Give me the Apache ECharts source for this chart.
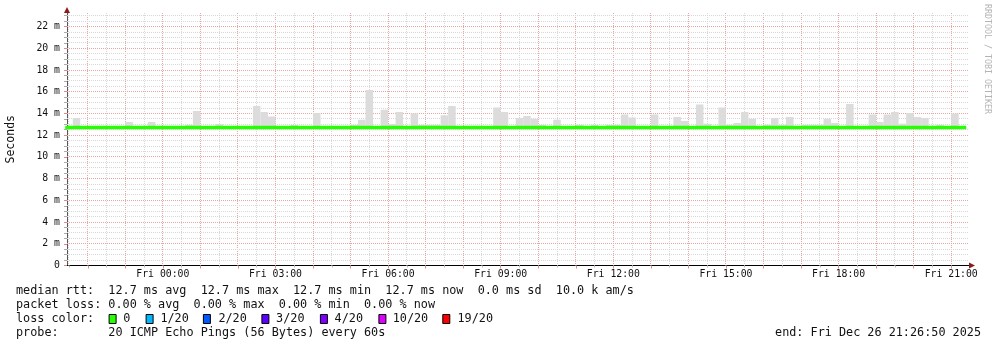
<!DOCTYPE html>
<html><head><meta charset="utf-8">
<script src="https://cdn.jsdelivr.net/npm/echarts@6/dist/echarts.min.js"></script>
<style>html,body{margin:0;padding:0;background:#fff}#c{width:997px;height:347px}</style>
</head><body><div id="c"></div>
<script>
// x values are hours relative to Fri 2025-12-26 00:00
const xMin = -2.552778;            // Thu 21:26:50
const xMax = 21.447222;            // Fri 21:26:50
const firstBucketStart = -2.6;     // Thu 21:24
const bucketHours = 0.2;           // 12 minute consolidation step

const smokeLow = 12.6;
const smokeHigh = [
  12.8,13.59,12.8,12.8,12.8,12.8,12.8,12.8,13.22,12.8,
  12.8,13.22,12.8,12.8,12.8,12.8,12.97,14.23,12.8,12.8,
  13.03,12.8,12.8,12.8,12.8,14.69,14.14,13.71,12.8,12.8,
  12.94,12.8,12.8,14.05,12.8,12.8,12.8,12.8,12.97,13.43,
  16.17,12.8,14.33,13.03,14.14,12.8,13.99,12.97,12.97,12.97,
  13.84,14.69,12.8,12.8,12.8,12.8,12.8,14.54,14.14,12.8,
  13.59,13.77,13.52,12.97,12.8,13.43,12.8,12.8,12.97,12.8,
  12.97,12.8,12.97,12.97,13.9,13.62,12.8,12.8,13.9,12.8,
  12.8,13.68,13.31,12.8,14.82,13.06,12.8,14.54,12.97,13.12,
  14.14,13.52,12.8,12.97,13.59,12.97,13.68,12.8,12.97,12.97,
  12.97,13.52,13.12,12.8,14.88,12.8,12.8,13.9,13.22,13.9,
  14.14,13.05,14.05,13.68,13.59,12.8,12.97,12.8,13.99,12.8
];
const medianRtt = [
  12.7,12.7,12.7,12.7,12.7,12.7,12.7,12.7,12.7,12.7,12.7,12.7,
  12.7,12.7,12.7,12.7,12.7,12.7,12.7,12.7,12.7,12.7,12.7,12.7,
  12.7,12.7,12.7,12.7,12.7,12.7,12.7,12.7,12.7,12.7,12.7,12.7,
  12.7,12.7,12.7,12.7,12.7,12.7,12.7,12.7,12.7,12.7,12.7,12.7,
  12.7,12.7,12.7,12.7,12.7,12.7,12.7,12.7,12.7,12.7,12.7,12.7,
  12.7,12.7,12.7,12.7,12.7,12.7,12.7,12.7,12.7,12.7,12.7,12.7,
  12.7,12.7,12.7,12.7,12.7,12.7,12.7,12.7,12.7,12.7,12.7,12.7,
  12.7,12.7,12.7,12.7,12.7,12.7,12.7,12.7,12.7,12.7,12.7,12.7,
  12.7,12.7,12.7,12.7,12.7,12.7,12.7,12.7,12.7,12.7,12.7,12.7,
  12.7,12.7,12.7,12.7,12.7,12.7,12.7,12.7,12.7,12.7,12.7,12.7
];

const xLabelValues = [0, 3, 6, 9, 12, 15, 18, 21];
const xLabelTexts = ['Fri 00:00','Fri 03:00','Fri 06:00','Fri 09:00','Fri 12:00','Fri 15:00','Fri 18:00','Fri 21:00'];
const xHourTicks = [-2,-1,0,1,2,3,4,5,6,7,8,9,10,11,12,13,14,15,16,17,18,19,20,21];
const xHalfHourTicks = [-2.5,-1.5,-0.5,0.5,1.5,2.5,3.5,4.5,5.5,6.5,7.5,8.5,9.5,10.5,11.5,12.5,13.5,14.5,15.5,16.5,17.5,18.5,19.5,20.5];
const yMax = 23.25;
const yMajorTicks = [0,2,4,6,8,10,12,14,16,18,20,22];
const yMinorTicks = [0.5,1,1.5,2.5,3,3.5,4.5,5,5.5,6.5,7,7.5,8.5,9,9.5,10.5,11,11.5,12.5,13,13.5,14.5,15,15.5,16.5,17,17.5,18.5,19,19.5,20.5,21,21.5,22.5,23];

const statsLines = [
  'median rtt:  12.7 ms avg  12.7 ms max  12.7 ms min  12.7 ms now  0.0 ms sd  10.0 k am/s',
  'packet loss: 0.00 % avg  0.00 % max  0.00 % min  0.00 % now',
  'loss color:',
  'probe:       20 ICMP Echo Pings (56 Bytes) every 60s'
];
const lossLabels = ['0','1/20','2/20','3/20','4/20','10/20','19/20'];
const lossColors = ['#26ff00','#00b8ff','#0059ff','#5e00ff','#7e00ff','#dd00ff','#ff0000'];
const endText = 'end: Fri Dec 26 21:26:50 2025';
const watermark = 'RRDTOOL / TOBI OETIKER';

const MONO = '"DejaVu Sans Mono"';
const GL = 67, GT = 13, GW = 901, GH = 252.5;
const RED = '#eaa6a6', GRAY = '#d8d8d8';

const smokeData = smokeHigh.map((h, i) => [firstBucketStart + i * bucketHours, firstBucketStart + (i + 1) * bucketHours, smokeLow, h]);
const medianData = medianRtt.map((v, i) => [firstBucketStart + i * bucketHours, v]);
medianData.push([firstBucketStart + medianRtt.length * bucketHours, medianRtt[medianRtt.length - 1]]);

// grid line series data: [value, kind] kind 0 = minor (gray), 1 = major (red)
const vGridData = xHalfHourTicks.map(v => [v, 0]).concat(xHourTicks.map(v => [v, 1]));
const hGridData = yMinorTicks.map(v => [v, 0]).concat(yMajorTicks.filter(v => v > 0).map(v => [v, 1]));

const chart = echarts.init(document.getElementById('c'), null, { renderer: 'canvas' });

// legend layout
const lineY = [291, 305, 319, 333];
const boxX = [108.6, 145.6, 202.9, 261.4, 319.9, 378.4, 442.3];
const labX = [123.3, 160.4, 218.4, 276.1, 334.6, 392.7, 457.5];
const graphics = [];
statsLines.forEach((t, i) => graphics.push({ type: 'text', x: 16, y: lineY[i], style: { text: t, font: '11.8px ' + MONO, fill: '#111', verticalAlign: 'middle' } }));
lossLabels.forEach((l, i) => {
  graphics.push({ type: 'rect', shape: { x: boxX[i] + 0.5, y: lineY[2] - 4.5, width: 7, height: 9 }, style: { fill: lossColors[i], stroke: '#000', lineWidth: 1 } });
  graphics.push({ type: 'text', x: labX[i], y: lineY[2], style: { text: l, font: '11.8px ' + MONO, fill: '#111', verticalAlign: 'middle' } });
});
graphics.push({ type: 'text', x: 981, y: lineY[3], style: { text: endText, font: '11.8px ' + MONO, fill: '#111', align: 'right', verticalAlign: 'middle' } });
graphics.push({ type: 'text', x: 987, y: 4, rotation: -Math.PI / 2, style: { text: watermark, font: '8.3px ' + MONO, fill: '#b4b4b4', align: 'left', verticalAlign: 'middle' } });
// axis arrows
graphics.push({ type: 'polygon', z: 10, shape: { points: [[GL - 3, GT], [GL + 3, GT], [GL, GT - 6]] }, style: { fill: '#8b1a1a' } });
graphics.push({ type: 'line', z: 10, shape: { x1: GL + GW, y1: GT + GH, x2: GL + GW + 3, y2: GT + GH }, style: { stroke: '#000', lineWidth: 1 } });
graphics.push({ type: 'polygon', z: 10, shape: { points: [[GL + GW + 1, GT + GH - 3], [GL + GW + 1, GT + GH + 3], [GL + GW + 7, GT + GH]] }, style: { fill: '#8b1a1a' } });

function crisp(v) { return Math.round(v - 0.5) + 0.5; }

const option = {
  animation: false,
  backgroundColor: '#ffffff',
  grid: { left: GL, top: GT, width: GW, height: GH, containLabel: false, outerBoundsMode: 'none' },
  xAxis: [
    { type: 'value', min: xMin, max: xMax, position: 'bottom',
      axisLine: { show: false, onZero: false }, axisLabel: { show: false },
      axisTick: { show: true, length: 2, customValues: xHalfHourTicks, lineStyle: { color: '#bbbbbb' } },
      splitLine: { show: false } },
    { type: 'value', min: xMin, max: xMax, position: 'bottom',
      axisLine: { show: true, onZero: false, lineStyle: { color: '#000', width: 1 } },
      axisTick: { show: true, length: 3, customValues: xHourTicks, lineStyle: { color: '#e08a8a' } },
      axisLabel: { show: true, customValues: xLabelValues, margin: 4, hideOverlap: false,
        formatter: v => { const k = xLabelValues.indexOf(Math.round(v)); return k >= 0 ? xLabelTexts[k] : ''; },
        fontFamily: MONO, fontSize: 9.8, color: '#111' },
      splitLine: { show: false } }
  ],
  yAxis: [
    { type: 'value', min: 0, max: yMax, position: 'left',
      axisLine: { show: false, onZero: false }, axisLabel: { show: false },
      axisTick: { show: true, length: 3, customValues: yMinorTicks, lineStyle: { color: '#aaaaaa' } },
      splitLine: { show: false } },
    { type: 'value', min: 0, max: yMax, position: 'left', offset: 0,
      name: 'Seconds', nameLocation: 'middle', nameGap: 50, nameRotate: 90,
      nameTextStyle: { fontFamily: MONO, fontSize: 11.5, color: '#111' },
      axisLine: { show: true, onZero: false, lineStyle: { color: '#555', width: 1 } },
      axisTick: { show: true, length: 3, customValues: yMajorTicks, lineStyle: { color: '#e08a8a' } },
      axisLabel: { show: true, customValues: yMajorTicks, margin: 7, hideOverlap: false,
        formatter: v => v === 0 ? '0' : (Math.round(v) + ' m'),
        fontFamily: MONO, fontSize: 9.8, color: '#111' },
      splitLine: { show: false } }
  ],
  series: [
    { type: 'custom', name: 'vgrid', xAxisIndex: 1, yAxisIndex: 1, z: 1, clip: false, silent: true,
      encode: { x: 0 }, data: vGridData,
      renderItem: function (params, api) {
        const top = api.coord([api.value(0), yMax]);
        const bot = api.coord([api.value(0), 0]);
        const x = crisp(top[0]);
        return { type: 'line', shape: { x1: x, y1: top[1], x2: x, y2: bot[1] },
          style: { stroke: api.value(1) ? RED : GRAY, fill: null, lineWidth: 1, lineDash: [1, 1] } };
      } },
    { type: 'custom', name: 'hgrid', xAxisIndex: 1, yAxisIndex: 1, z: 1, clip: false, silent: true,
      encode: { y: 0 }, data: hGridData,
      renderItem: function (params, api) {
        const l = api.coord([xMin, api.value(0)]);
        const r = api.coord([xMax, api.value(0)]);
        const y = crisp(l[1]);
        return { type: 'line', shape: { x1: l[0], y1: y, x2: r[0], y2: y },
          style: { stroke: api.value(1) ? RED : GRAY, fill: null, lineWidth: 1, lineDash: [1, 1] } };
      } },
    { type: 'custom', name: 'smoke', xAxisIndex: 1, yAxisIndex: 1, z: 2, clip: true,
      encode: { x: [0, 1], y: [2, 3] },
      data: smokeData,
      renderItem: function (params, api) {
        const p0 = api.coord([api.value(0), api.value(3)]);
        const p1 = api.coord([api.value(1), api.value(2)]);
        const cs = params.coordSys;
        const r = echarts.graphic.clipRectByRect(
          { x: p0[0], y: p0[1], width: p1[0] - p0[0], height: p1[1] - p0[1] },
          { x: cs.x, y: cs.y, width: cs.width, height: cs.height });
        return r && { type: 'rect', shape: r, style: { fill: '#dcdcdc' } };
      } },
    { type: 'line', name: 'median rtt', xAxisIndex: 1, yAxisIndex: 1, z: 3,
      data: medianData, step: 'end', showSymbol: false, symbol: 'none', clip: true,
      lineStyle: { color: '#26ff00', width: 3.5 } }
  ],
  graphic: graphics
};
chart.setOption(option);
</script>
</body></html>
